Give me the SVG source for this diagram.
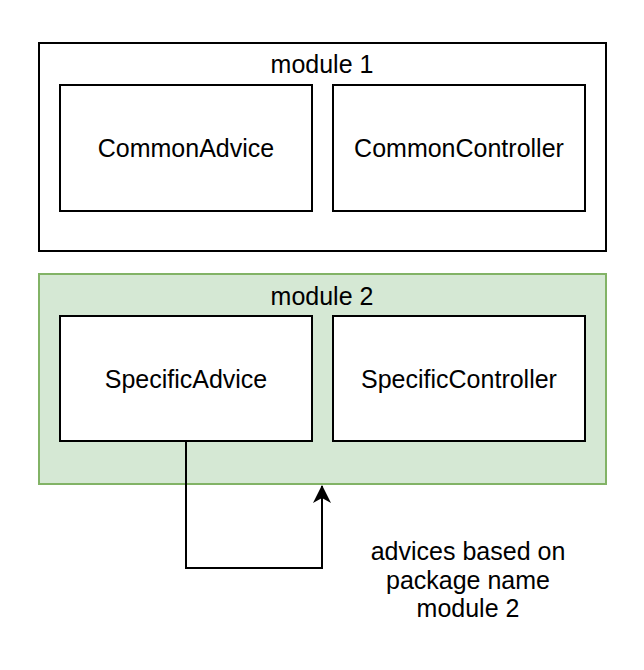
<svg xmlns="http://www.w3.org/2000/svg" width="644" height="670" viewBox="0 0 644 670">
<style>
text{font-family:"Liberation Sans",Arial,sans-serif;font-size:25px;fill:#000;text-anchor:middle}
.box{fill:#fff;stroke:#000;stroke-width:2}
</style>
<defs>
<marker id="arr" markerWidth="18" markerHeight="18" refX="17" refY="9" orient="auto" markerUnits="userSpaceOnUse">
<path d="M0,0 L18,9 L0,18 L5,9 Z" fill="#000"/>
</marker>
</defs>
<rect width="644" height="670" fill="#fff"/>
<g id="module1">
<rect class="box" x="39" y="43" width="567" height="208"/>
<text x="322" y="73">module 1</text>
</g>
<g id="commonAdvice">
<rect class="box" x="60" y="85" width="252" height="126"/>
<text x="186" y="157">CommonAdvice</text>
</g>
<g id="commonController">
<rect class="box" x="333" y="85" width="252" height="126"/>
<text x="459" y="157">CommonController</text>
</g>
<g id="module2">
<rect x="39" y="274" width="567" height="210" fill="#d5e8d4" stroke="#82b366" stroke-width="2"/>
<text x="322" y="305">module 2</text>
</g>
<g id="specificAdvice">
<rect class="box" x="60" y="316" width="252" height="125"/>
<text x="186" y="388">SpecificAdvice</text>
</g>
<g id="specificController">
<rect class="box" x="333" y="316" width="252" height="125"/>
<text x="459" y="388">SpecificController</text>
</g>
<g id="connectors">
<path d="M186,441 V568 H322 V486" fill="none" stroke="#000" stroke-width="2" marker-end="url(#arr)"/>
</g>
<g id="note">
<text x="468" y="560">advices based on</text>
<text x="468" y="589">package name</text>
<text x="468" y="617">module 2</text>
</g>
</svg>
